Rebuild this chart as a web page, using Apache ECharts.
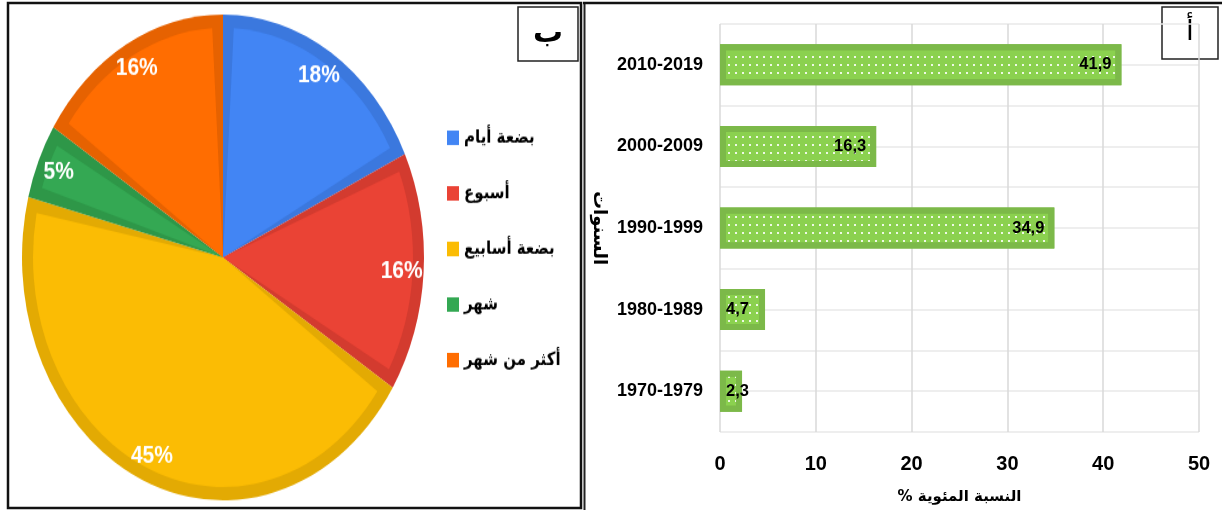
<!DOCTYPE html>
<html>
<head>
<meta charset="utf-8">
<script src="https://cdn.jsdelivr.net/npm/echarts@6/dist/echarts.min.js"></script>
<style>
    html, body { margin: 0; padding: 0; background: #fff; }
    #page { position: relative; width: 1222px; height: 510px; overflow: hidden; }
    #barChart { position: absolute; left: 0; top: 0; width: 1222px; height: 510px; }
    /* the pie in the picture is an ellipse, so the pie canvas is stretched vertically */
    #pieChart { position: absolute; left: 0; top: 0; width: 584px; height: 422px;
                transform: scaleY(1.2085); transform-origin: 0 0; }
</style>
</head>
<body>
<div id="page">
    <div id="barChart"></div>
    <div id="pieChart"></div>
</div>
<script>
// pie (ب): duration groups
var pieNames = ['بضعة أيام', 'أسبوع', 'بضعة أسابيع', 'شهر', 'أكثر من شهر'];
var pieValues = [18, 16, 45, 5, 16];
var pieColors = ['#4285f4', '#ea4335', '#fbbc04', '#34a853', '#ff6d01'];
var pieBorders = ['#3b78de', '#d33b2f', '#e3aa03', '#2e9748', '#e66201'];

// bars (أ): decades, percentages
var decades = ['1970-1979', '1980-1989', '1990-1999', '2000-2009', '2010-2019'];
var decadeValues = [2.3, 4.7, 34.9, 16.3, 41.9];
var xTicks = [0, 10, 20, 30, 40, 50];

var arabicFont = '"DejaVu Sans", sans-serif';
var latinFont = '"Liberation Sans", Arial, sans-serif';

function commaNumber(v) {
    return v.toFixed(1).replace('.', ',');
}

function pieLayer(colors) {
    return pieNames.map(function (name, i) {
        var item = { name: name, value: pieValues[i] };
        if (colors) {
            item.itemStyle = { color: colors[i] };
        }
        return item;
    });
}

var pieCenter = [223, 213];

var pieOption = {
    animation: false,
    legend: {
        orient: 'vertical',
        left: 447,
        top: 104,
        padding: 0,
        itemWidth: 12,
        itemHeight: 12,
        itemGap: 26,
        icon: 'rect',
        data: pieNames.map(function (name, i) {
            return { name: name, itemStyle: { color: pieColors[i] } };
        }),
        textStyle: { fontFamily: arabicFont, fontWeight: 'bold', fontSize: 15, color: '#000', lineHeight: 20 }
    },
    series: [
        {
            // darker rim of every slice
            type: 'pie',
            center: pieCenter,
            radius: [0, 201],
            startAngle: 90,
            silent: true,
            label: { show: false },
            labelLine: { show: false },
            data: pieLayer(pieBorders)
        },
        {
            // lighter inner face of every slice
            type: 'pie',
            center: pieCenter,
            radius: [0, 190],
            startAngle: 90,
            padAngle: 6.5,
            silent: true,
            label: { show: false },
            labelLine: { show: false },
            data: pieLayer(pieColors)
        },
        {
            // transparent ring only used to place the percentage labels
            type: 'pie',
            center: pieCenter,
            radius: [144, 208],
            startAngle: 90,
            silent: true,
            itemStyle: { color: 'rgba(0,0,0,0)' },
            label: {
                show: true,
                position: 'inside',
                color: '#fff',
                fontFamily: latinFont,
                fontWeight: 'bold',
                fontSize: 21,
                formatter: function (p) { return p.value + '%'; }
            },
            labelLine: { show: false },
            data: pieLayer(null)
        }
    ]
};

var barData = decadeValues.map(function (v) {
    return {
        value: v,
        label: v < 10 ? { position: 'insideLeft', distance: 6 } : { position: 'insideRight', distance: 10 }
    };
});

var barOption = {
    animation: false,
    grid: { left: 720, top: 24, width: 479, height: 409 },
    xAxis: {
        type: 'value',
        min: xTicks[0],
        max: xTicks[xTicks.length - 1],
        interval: 10,
        name: '% النسبة المئوية',
        nameLocation: 'middle',
        nameGap: 58,
        nameTextStyle: { fontFamily: arabicFont, fontWeight: 'bold', fontSize: 15, color: '#000' },
        axisLine: { show: false },
        axisTick: { show: false },
        axisLabel: { color: '#000', fontFamily: latinFont, fontWeight: 'bold', fontSize: 20, margin: 22 },
        splitLine: { lineStyle: { color: '#d9d9d9', width: 1.5 } }
    },
    yAxis: [
        {
            type: 'category',
            data: decades,
            name: 'السنوات',
            nameLocation: 'middle',
            nameRotate: -90,
            nameGap: 112,
            nameTextStyle: { fontFamily: arabicFont, fontWeight: 'bold', fontSize: 18, color: '#000' },
            axisLine: { show: false },
            axisTick: { show: false },
            splitLine: { show: false },
            axisLabel: { color: '#000', fontFamily: latinFont, fontWeight: 'bold', fontSize: 18, margin: 17 }
        },
        {
            // gridlines every half band
            type: 'value',
            min: 0,
            max: 10,
            interval: 1,
            axisLine: { show: false },
            axisTick: { show: false },
            axisLabel: { show: false },
            splitLine: { show: true, lineStyle: { color: '#e8e8e8', width: 1.5 } }
        }
    ],
    series: [{
        type: 'bar',
        yAxisIndex: 0,
        barWidth: 41,
        data: barData,
        itemStyle: {
            color: '#8bd14f',
            borderColor: '#7cb949',
            borderWidth: 6,
            decal: {
                symbol: 'rect',
                symbolSize: 1,
                color: 'rgba(255,255,255,0.85)',
                dashArrayX: [1.5, 5],
                dashArrayY: [1.5, 6]
            }
        },
        label: {
            show: true,
            color: '#000',
            fontFamily: latinFont,
            fontWeight: 'bold',
            fontSize: 16.5,
            formatter: function (p) { return commaNumber(p.value); }
        }
    }],
    graphic: [
        // panel frames
        { type: 'rect', shape: { x: 8, y: 3, width: 573, height: 505 }, style: { fill: null, stroke: '#111', lineWidth: 2.5 }, silent: true },
        { type: 'line', shape: { x1: 584.5, y1: 3, x2: 584.5, y2: 510 }, style: { stroke: '#222', lineWidth: 2 }, silent: true },
        { type: 'line', shape: { x1: 583, y1: 3, x2: 1222, y2: 3 }, style: { stroke: '#111', lineWidth: 2.5 }, silent: true },
        // letter boxes
        { type: 'rect', shape: { x: 518, y: 7, width: 60, height: 54 }, style: { fill: '#fff', stroke: '#222', lineWidth: 1.5 }, silent: true },
        { type: 'text', x: 548, y: 34, style: { text: 'ب', fill: '#000', font: 'bold 30px ' + arabicFont, align: 'center', verticalAlign: 'middle' }, silent: true },
        { type: 'rect', shape: { x: 1162, y: 7, width: 56, height: 52 }, style: { fill: '#fff', stroke: '#222', lineWidth: 1.5 }, silent: true },
        { type: 'text', x: 1190, y: 33, style: { text: 'أ', fill: '#000', font: '28px ' + arabicFont, align: 'center', verticalAlign: 'middle' }, silent: true }
    ]
};

var barChart = echarts.init(document.getElementById('barChart'));
barChart.setOption(barOption);
var pieChart = echarts.init(document.getElementById('pieChart'));
pieChart.setOption(pieOption);
</script>
</body>
</html>
